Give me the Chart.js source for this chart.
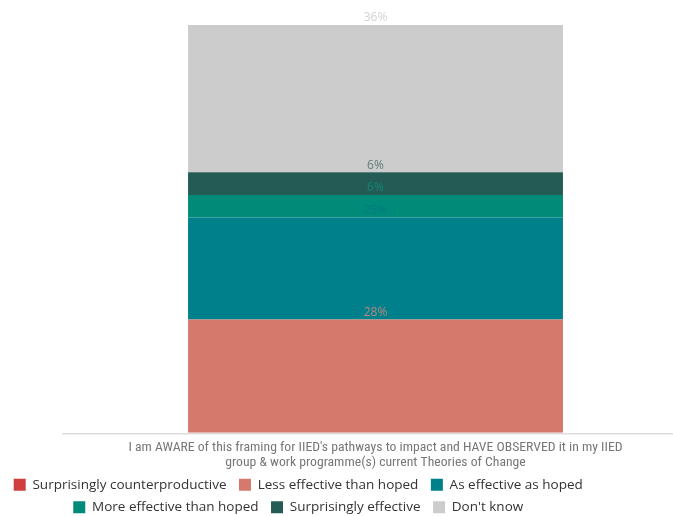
<!DOCTYPE html>
<html>
<head>
<meta charset="utf-8">
<script src="https://cdn.jsdelivr.net/npm/chart.js@4/dist/chart.umd.min.js"></script>
<style>
  html,body{margin:0;padding:0;background:#fff;}
  #wrap{width:673px;height:516px;position:relative;}
</style>
</head>
<body>
<div id="wrap"><canvas id="c"></canvas></div>
<script>
// categories / series (n = 36 responses, shown as %)
const categories = [['I am AWARE of this framing for IIED\'s pathways to impact and HAVE OBSERVED it in my IIED','group & work programme(s) current Theories of Change']];
const seriesNames = ['Surprisingly counterproductive','Less effective than hoped','As effective as hoped','More effective than hoped','Surprisingly effective','Don\'t know'];
const seriesValues = [0, 27.78, 25.0, 5.56, 5.56, 36.11];
const seriesColors = ['#d03e3e','#d4796c','#00808a','#008a78','#255b55','#cccccc'];
const labelColors = ['#d03e3e','#b7877f','#007a84','#118777','#5f7d78','#d2d2d2'];

const datasets = seriesNames.map((name,i)=>({
  label:name,
  data:[seriesValues[i]],
  backgroundColor:seriesColors[i],
  borderWidth:0,
  categoryPercentage:1,
  barPercentage:0.835
}));

// percent label just above each segment, in the segment's colour
const topLabels = {
  id:'topLabels',
  afterDatasetsDraw(chart){
    const ctx = chart.ctx;
    ctx.save();
    ctx.font = '12px "Open Sans", sans-serif';
    ctx.textAlign = 'center';
    ctx.textBaseline = 'bottom';
    chart.data.datasets.forEach((ds,i)=>{
      const meta = chart.getDatasetMeta(i);
      meta.data.forEach((bar,j)=>{
        const v = ds.data[j];
        if(!v) return;
        ctx.fillStyle = labelColors[i];
        ctx.fillText(Math.round(v)+'%', bar.x, bar.y - 1);
      });
    });
    ctx.restore();
  }
};

// baseline under the bar
const baseLine = {
  id:'baseLine',
  afterDraw(chart){
    const a = chart.chartArea, ctx = chart.ctx;
    ctx.save();
    ctx.strokeStyle = '#dddddd';
    ctx.lineWidth = 1.5;
    ctx.beginPath();
    ctx.moveTo(62, a.bottom + 1);
    ctx.lineTo(chart.width, a.bottom + 1);
    ctx.stroke();
    ctx.restore();
  }
};

new Chart(document.getElementById('c'),{
  type:'bar',
  data:{labels:categories, datasets},
  options:{
    responsive:true,
    maintainAspectRatio:false,
    animation:false,
    layout:{padding:{left:0,right:73,top:25,bottom:-8}},
    plugins:{
      legend:{
        position:'bottom',
        labels:{
          font:{family:'"Open Sans", sans-serif', size:13.5},
          color:'#333',
          boxWidth:12, boxHeight:12,
          padding:9,
          generateLabels(chart){
            return Chart.defaults.plugins.legend.labels.generateLabels(chart).map(l=>({...l, text:l.text+' '}));
          }
        }
      },
      tooltip:{enabled:false}
    },
    scales:{
      x:{
        stacked:true,
        grid:{display:false, drawTicks:false},
        border:{display:false},
        ticks:{
          color:'#777',
          font:{family:'"Liberation Sans Narrow", "Roboto Condensed", sans-serif', size:13.7, lineHeight:1.1},
          padding:7
        },
        afterFit(scale){ scale.height -= 8; }
      },
      y:{
        stacked:true,
        min:0, max:100,
        grid:{display:false, drawTicks:false},
        border:{display:false},
        ticks:{display:false},
        afterFit(scale){ scale.width = 151; }
      }
    }
  },
  plugins:[topLabels, baseLine]
});
</script>
</body>
</html>
